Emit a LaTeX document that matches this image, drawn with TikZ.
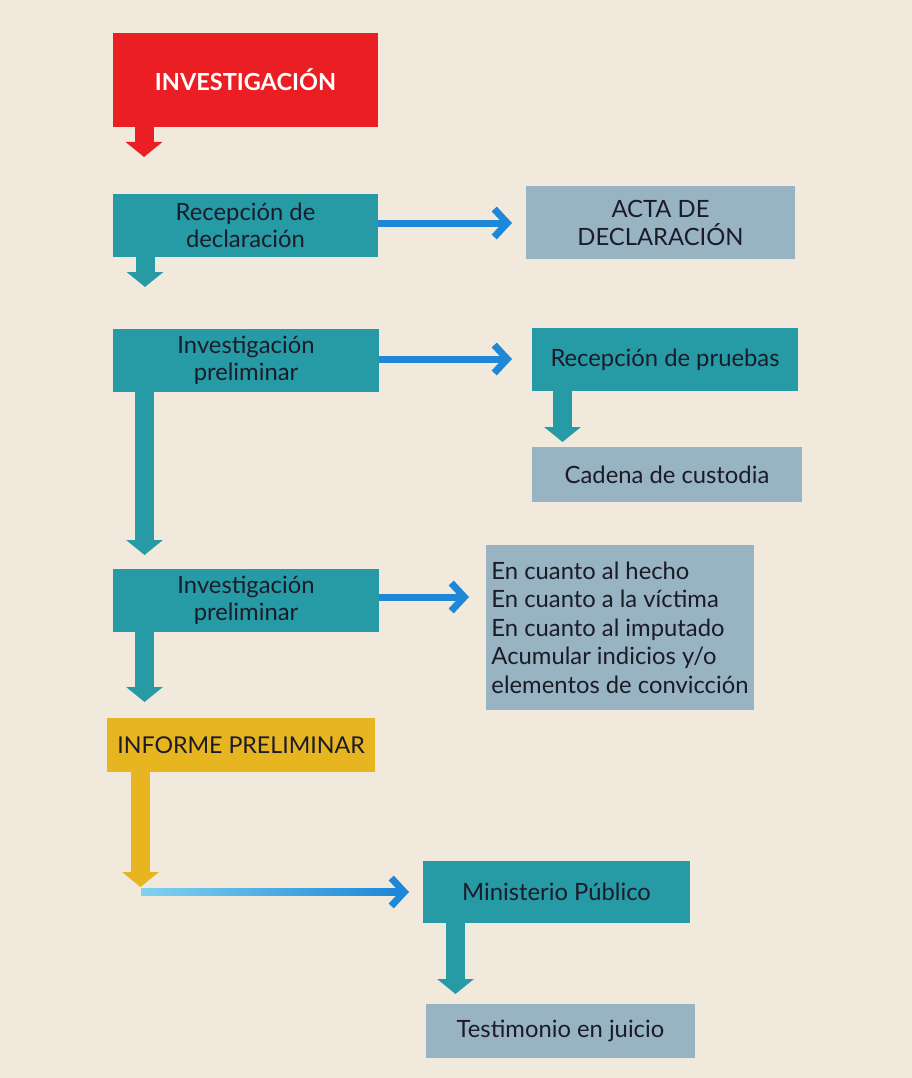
\documentclass[tikz,border=0pt]{standalone}
\usepackage{fontspec}
\setmainfont{Lato}
\usetikzlibrary{arrows.meta,calc}
\definecolor{bgc}{HTML}{F1EADC}
\definecolor{tealc}{HTML}{269BA5}
\definecolor{grayc}{HTML}{98B3C1}
\definecolor{redc}{HTML}{EB1E23}
\definecolor{yelc}{HTML}{E6B520}
\definecolor{bluec}{HTML}{1E87D7}
\definecolor{lbluec}{HTML}{80D2F0}
\definecolor{txtc}{HTML}{1B1B2A}
\tikzset{
  box/.style={rectangle, inner sep=0pt, align=center, text=txtc,
    font=\fontsize{23.8}{26.5}\selectfont},
  tealbox/.style={box, fill=tealc},
  graybox/.style={box, fill=grayc},
  downarrow/.style={line width=19pt, -{Triangle[width=36pt,length=15pt]}},
  sidearrow/.style={draw=bluec, line width=7pt, -{Straight Barb[length=13pt,width=28pt]}},
}
\begin{document}
\begin{tikzpicture}[x=1pt,y=-1pt]
\fill[bgc] (0,0) rectangle (912,1078);
\useasboundingbox (0,0) rectangle (912,1078);

% boxes
\node[box, fill=redc, text=white, minimum width=265, minimum height=94,
  font=\fontsize{23.5}{26}\selectfont\bfseries] (inv) at (245.5,80) {INVESTIGACIÓN};
\node[tealbox, minimum width=265, minimum height=63] (rec) at (245.5,225.5) {Recepción de\\declaración};
\node[graybox, minimum width=269, minimum height=73, font=\fontsize{23.8}{28}\selectfont] (acta) at (660.5,222.5) {ACTA DE\\DECLARACIÓN};
\node[tealbox, minimum width=266, minimum height=63] (ip1) at (246,360.5) {Investigación\\preliminar};
\node[tealbox, minimum width=266, minimum height=63] (pru) at (665,359.5) {Recepción de pruebas};
\node[graybox, minimum width=270, minimum height=55] (cad) at (667,474.5) {Cadena de custodia};
\node[tealbox, minimum width=266, minimum height=63] (ip2) at (246,600.5) {Investigación\\preliminar};
\node[graybox, minimum width=268, minimum height=165, align=left,
  font=\fontsize{23.8}{28.5}\selectfont] (lst) at (620,627.5)
  {En cuanto al hecho\\En cuanto a la víctima\\En cuanto al imputado\\Acumular indicios y/o\\elementos de convicción};
\node[box, fill=yelc, minimum width=268, minimum height=54, font=\fontsize{23.2}{26}\selectfont] (inf) at (241,745) {INFORME PRELIMINAR};
\node[tealbox, minimum width=267, minimum height=62] (min) at (556.5,892) {Ministerio Público};
\node[graybox, minimum width=269, minimum height=54] (tes) at (560.5,1031) {Testimonio en juicio};

% tip coordinates
\coordinate (t0) at (144,157);
\coordinate (t1) at (145,287);
\coordinate (t2) at (144.5,555);
\coordinate (t3) at (144.5,702);
\coordinate (t4) at (562.5,442);
\coordinate (t5) at (140.5,887);
\coordinate (t6) at (455.5,994);
\coordinate (h1) at (512,223);
\coordinate (h2) at (512,359);
\coordinate (h3) at (469,597);
\coordinate (s4) at (141,892);
\coordinate (h4) at (409,892);

% side arrows
\draw[sidearrow] (rec.east |- h1) -- (h1);
\draw[sidearrow] (ip1.east |- h2) -- (h2);
\draw[sidearrow] (ip2.east |- h3) -- (h3);
\draw[sidearrow] (s4) -- (h4);
\shade[left color=lbluec, middle color=bluec, right color=bluec] (141,888.5) rectangle (396,895.5);

% down arrows
\draw[downarrow, draw=redc, fill=redc] (inv.south -| t0) -- (t0);
\draw[downarrow, draw=tealc, fill=tealc] (rec.south -| t1) -- (t1);
\draw[downarrow, draw=tealc, fill=tealc] (ip1.south -| t2) -- (t2);
\draw[downarrow, draw=tealc, fill=tealc] (ip2.south -| t3) -- (t3);
\draw[downarrow, draw=tealc, fill=tealc] (pru.south -| t4) -- (t4);
\draw[downarrow, draw=yelc, fill=yelc] (inf.south -| t5) -- (t5);
\draw[downarrow, draw=tealc, fill=tealc] (min.south -| t6) -- (t6);
\end{tikzpicture}
\end{document}
